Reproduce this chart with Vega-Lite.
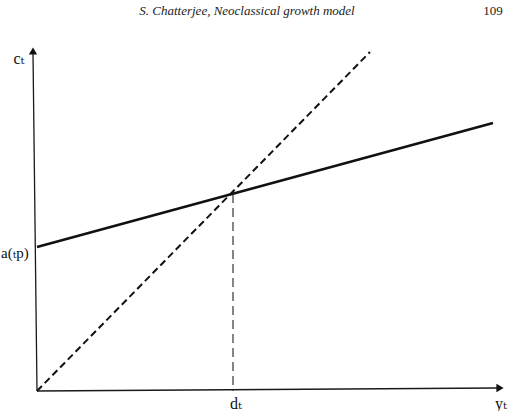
{
  "$schema": "https://vega.github.io/schema/vega-lite/v6.json",
  "width": 509,
  "height": 411,
  "autosize": {"type": "none"},
  "padding": 0,
  "background": "white",
  "config": {"view": {"stroke": null}},
  "datasets": {
    "lines": [
      {"series": "solid", "x": 0, "y": 144},
      {"series": "solid", "x": 456, "y": 268},
      {"series": "diag", "x": 0, "y": 0},
      {"series": "diag", "x": 333, "y": 339},
      {"series": "vert", "x": 196, "y": 197},
      {"series": "vert", "x": 196, "y": 0},
      {"series": "xaxis", "x": 0, "y": 0},
      {"series": "xaxis", "x": 460, "y": 3},
      {"series": "yaxis", "x": 0, "y": 0},
      {"series": "yaxis", "x": -4, "y": 338}
    ],
    "arrows": [
      {"x": 463, "y": 3, "shape": "triangle-right"},
      {"x": -4, "y": 340, "shape": "triangle-up"}
    ],
    "labels": [
      {"label": "cₜ", "x": -18, "y": 332},
      {"label": "dₜ", "x": 199, "y": -13},
      {"label": "yₜ", "x": 464, "y": -13}
    ],
    "leftlabel": [
      {"label": "a(ₜp)", "x": -36, "y": 138}
    ],
    "header": [
      {"label": "S. Chatterjee, Neoclassical growth model", "x": 210, "y": 380}
    ],
    "page": [
      {"label": "109", "x": 456, "y": 380}
    ]
  },
  "encoding": {
    "x": {"field": "x", "type": "quantitative", "scale": {"domain": [-37, 472], "nice": false, "zero": false}, "axis": null},
    "y": {"field": "y", "type": "quantitative", "scale": {"domain": [-20, 391], "nice": false, "zero": false}, "axis": null}
  },
  "layer": [
    {
      "data": {"name": "lines"},
      "transform": [{"filter": "datum.series === 'xaxis' || datum.series === 'yaxis'"}],
      "mark": {"type": "line", "color": "#1a1a1a", "strokeWidth": 1.3},
      "encoding": {"detail": {"field": "series"}, "order": {"field": "y"}}
    },
    {
      "data": {"name": "lines"},
      "transform": [{"filter": "datum.series === 'solid'"}],
      "mark": {"type": "line", "color": "#111111", "strokeWidth": 2.6},
      "encoding": {}
    },
    {
      "data": {"name": "lines"},
      "transform": [{"filter": "datum.series === 'diag'"}],
      "mark": {"type": "line", "color": "#111111", "strokeWidth": 2, "strokeDash": [7, 4]},
      "encoding": {}
    },
    {
      "data": {"name": "lines"},
      "transform": [{"filter": "datum.series === 'vert'"}],
      "mark": {"type": "line", "color": "#222222", "strokeWidth": 1.1, "strokeDash": [9, 5]},
      "encoding": {}
    },
    {
      "data": {"name": "arrows"},
      "mark": {"type": "point", "filled": true, "color": "#111111", "size": 70, "opacity": 1},
      "encoding": {"shape": {"field": "shape", "type": "nominal", "scale": null}}
    },
    {
      "data": {"name": "labels"},
      "mark": {"type": "text", "font": "Liberation Serif, DejaVu Serif, serif", "fontSize": 16, "baseline": "middle", "align": "center", "color": "#111111"},
      "encoding": {"text": {"field": "label"}}
    },
    {
      "data": {"name": "leftlabel"},
      "mark": {"type": "text", "font": "Liberation Serif, DejaVu Serif, serif", "fontSize": 15, "baseline": "middle", "align": "left", "color": "#111111"},
      "encoding": {"text": {"field": "label"}}
    },
    {
      "data": {"name": "header"},
      "mark": {"type": "text", "font": "Liberation Serif, DejaVu Serif, serif", "fontSize": 13, "fontStyle": "italic", "baseline": "middle", "align": "center", "color": "#222222"},
      "encoding": {"text": {"field": "label"}}
    },
    {
      "data": {"name": "page"},
      "mark": {"type": "text", "font": "Liberation Serif, DejaVu Serif, serif", "fontSize": 13, "baseline": "middle", "align": "center", "color": "#222222"},
      "encoding": {"text": {"field": "label"}}
    }
  ]
}
